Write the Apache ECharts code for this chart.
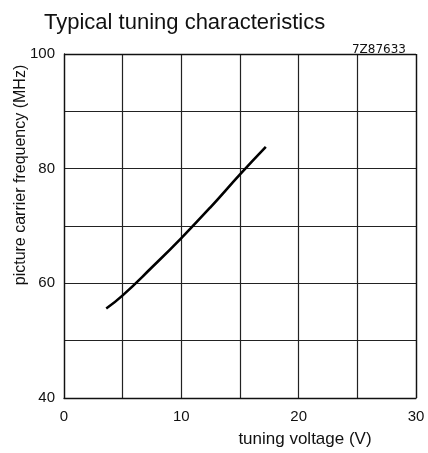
<!DOCTYPE html>
<html><head><meta charset="utf-8">
<script src="https://cdn.jsdelivr.net/npm/echarts@6/dist/echarts.min.js"></script>
<style>html,body{margin:0;padding:0;background:#fff;overflow:hidden}#c{width:428px;height:453px}</style>
</head><body><div id="c"></div>
<script>
const voltage = [3.6, 5, 7.5, 10, 12.5, 15, 17.2];
const frequency = [55.6, 57.9, 62.8, 67.9, 73.3, 79.0, 83.8];
const xTicks = [0, 10, 20, 30];
const yTicks = [40, 60, 80, 100];
const title = 'Typical tuning characteristics';
const code = '7Z87633';
const xName = 'tuning voltage (V)';
const yName = 'picture carrier frequency (MHz)';

const font = '"Liberation Sans", Arial, sans-serif';
const chart = echarts.init(document.getElementById('c'), null, {renderer: 'canvas', width: 428, height: 453});
chart.setOption({
  animation: false,
  backgroundColor: '#fff',
  title: [
    {text: title, left: 39, top: 7, textStyle: {fontFamily: font, fontSize: 22, fontWeight: 'normal', color: '#111'}},
    {text: code, right: 17, top: 39, textStyle: {fontFamily: '"DejaVu Sans", sans-serif', fontSize: 12, fontWeight: 'normal', color: '#111'}}
  ],
  graphic: [{
    type: 'text', x: 21, y: 175, rotation: Math.PI / 2,
    style: {text: yName, fontFamily: font, fontSize: 16, fill: '#111', align: 'center', verticalAlign: 'middle'}
  }],
  grid: {left: 64, top: 54, width: 352, height: 351, containLabel: false, show: false},
  xAxis: {
    type: 'value', min: 0, max: 30, interval: 5,
    name: xName, nameLocation: 'middle', nameGap: 33,
    nameTextStyle: {fontFamily: font, fontSize: 17, color: '#111', padding: [0, 0, 0, 130]},
    axisLine: {show: true, lineStyle: {color: '#111', width: 1.3}},
    axisTick: {show: false},
    splitLine: {show: true, lineStyle: {color: '#222', width: 1.2}},
    axisLabel: {fontFamily: font, fontSize: 15, color: '#111', margin: 11,
      formatter: v => xTicks.includes(v) ? String(v) : ''}
  },
  yAxis: {
    type: 'value', min: 40, max: 100, interval: 10,
    axisLine: {show: true, lineStyle: {color: '#111', width: 1.3}},
    axisTick: {show: false},
    splitLine: {show: true, lineStyle: {color: '#222', width: 1.2}},
    axisLabel: {fontFamily: font, fontSize: 15, color: '#111', margin: 9,
      formatter: v => yTicks.includes(v) ? String(v) : ''}
  },
  series: [{
    type: 'line', smooth: true, showSymbol: false,
    data: voltage.map((v, i) => [v, frequency[i]]),
    lineStyle: {color: '#000', width: 2.6}
  }, {
    type: 'line', data: [], markLine: {silent: true, symbol: 'none', label: {show: false},
      lineStyle: {color: '#111', width: 1.3, type: 'solid'},
      data: [{xAxis: 30}, {yAxis: 100}]}
  }]
});
</script></body></html>
